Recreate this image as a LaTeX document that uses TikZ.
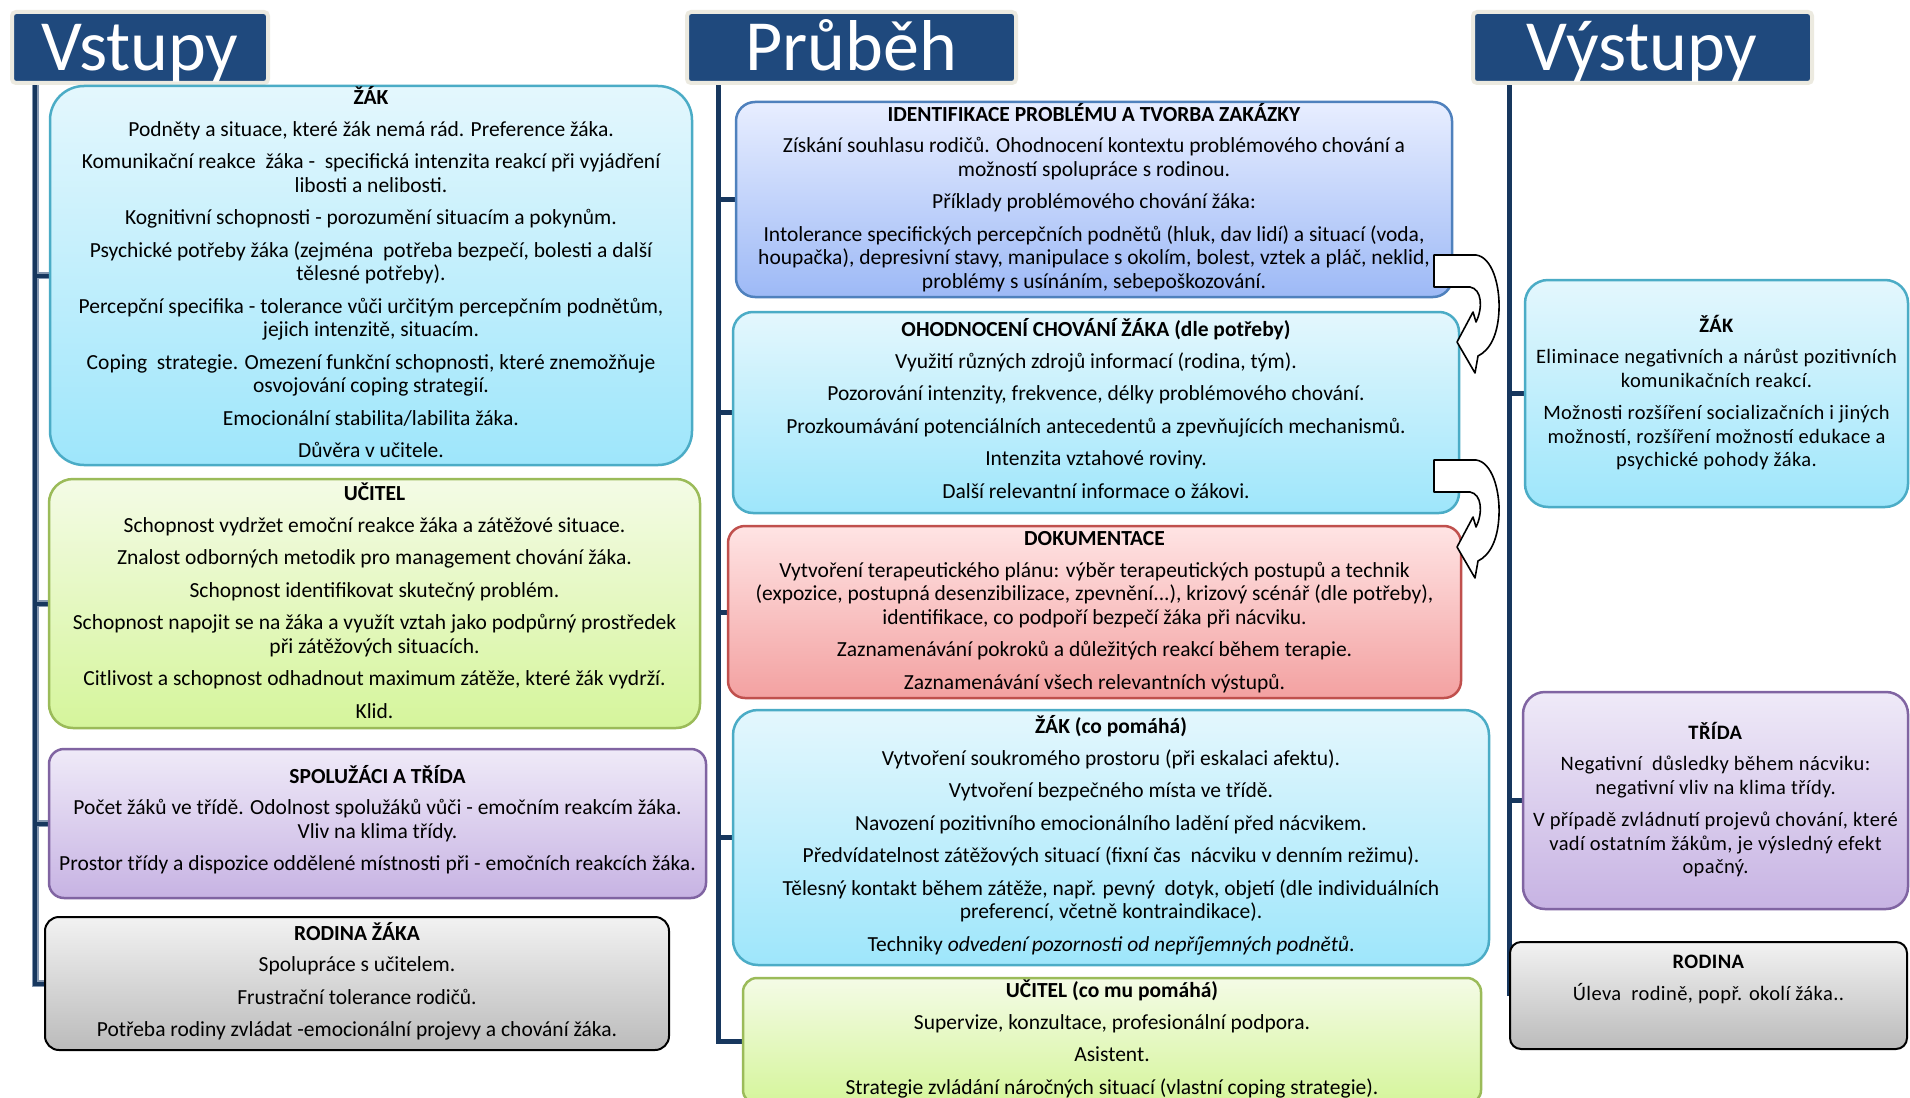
\documentclass[tikz,border=0pt]{standalone}
\usepackage{fontspec}
\setmainfont{Carlito}
\usetikzlibrary{fit,backgrounds}

% palette
\definecolor{trunk}{HTML}{17375E}
\definecolor{trunkEdge}{HTML}{8497B0}
\definecolor{headFill}{HTML}{1F497D}
\definecolor{headEdge}{HTML}{ECEAE0}
\definecolor{cyanTop}{HTML}{E4F7FD}
\definecolor{cyanBot}{HTML}{9EE6FB}
\definecolor{cyanEdge}{HTML}{4BACC6}
\definecolor{greenTop}{HTML}{F4FBE6}
\definecolor{greenBot}{HTML}{D5F59B}
\definecolor{greenEdge}{HTML}{9BBB59}
\definecolor{violetTop}{HTML}{EFEAF8}
\definecolor{violetBot}{HTML}{C7B3E3}
\definecolor{violetEdge}{HTML}{8064A2}
\definecolor{redTop}{HTML}{FFE4E4}
\definecolor{redBot}{HTML}{F3A1A1}
\definecolor{redEdge}{HTML}{C0504D}
\definecolor{blueTop}{HTML}{E8EEFF}
\definecolor{blueBot}{HTML}{9DB9F6}
\definecolor{blueEdge}{HTML}{4F81BD}
\definecolor{grayTop}{HTML}{F2F2F2}
\definecolor{grayBot}{HTML}{BBBBBB}

\newcommand\bodyfont{\fontsize{21.5}{23.5}\selectfont}
\newcommand\sidefont{\fontsize{20.5}{23.5}\selectfont\addfontfeature{LetterSpace=2.0}}
\newcommand\headfont{\fontsize{72}{80}\selectfont}

\tikzset{
  panel/.style={line width=2.5pt, rounded corners=#1, inner sep=0pt},
  cyanpanel/.style={panel=#1, draw=cyanEdge, top color=cyanTop, bottom color=cyanBot},
  greenpanel/.style={panel=#1, draw=greenEdge, top color=greenTop, bottom color=greenBot},
  violetpanel/.style={panel=#1, draw=violetEdge, top color=violetTop, bottom color=violetBot},
  redpanel/.style={panel=#1, draw=redEdge, top color=redTop, bottom color=redBot},
  bluepanel/.style={panel=#1, draw=blueEdge, top color=blueTop, bottom color=blueBot},
  graypanel/.style={panel=#1, line width=2pt, draw=black, top color=grayTop, bottom color=grayBot},
  paneltext/.style={align=center, font=\bodyfont, text=black, inner sep=0pt},
  sidetext/.style={paneltext, font=\sidefont},
  headbox/.style={draw=headEdge, line width=4pt, fill=headFill, rounded corners=4pt, inner sep=0pt},
  headtext/.style={text=white, font=\headfont, anchor=base, inner sep=0pt},
  trunkline/.style={draw=trunk, line width=5pt},
  trunkhalo/.style={draw=trunkEdge, line width=7pt},
  uturn/.pic={
    \draw[line width=1.6pt, fill=white, line join=round]
      (0,0) -- (42,0) .. controls (58,2) and (66,30) .. (65,55)
      .. controls (64,80) and (56,95) .. (44,101) -- (41,118) -- (23,87)
      -- (39,57) -- (42,67) .. controls (49,53) and (48,34) .. (36,32)
      -- (0,32) -- cycle;
  }
}

\begin{document}
\begin{tikzpicture}[x=1pt,y=-1pt]
\clip (0,0) rectangle (1910,1097);

% column headings
\node[headbox, fit={(12,12)(268,83)}] (hin) {};
\node[headtext] (hintext) at (140,71) {Vstupy};
\node[headbox, fit={(687,12)(1016,83)}] (hmid) {};
\node[headtext] (hmidtext) at (851,71) {Průběh};
\node[headbox, fit={(1473,12)(1812,83)}] (hout) {};
\node[headtext] (houttext) at (1642,71) {Výstupy};

% ---- panels ----
\node[cyanpanel=34pt, fit={(50,86)(692,465)}] (lz) {};
\node[greenpanel=24pt, fit={(49,479)(700,728)}] (lu) {};
\node[violetpanel=15pt, fit={(49,749)(706,898)}] (ls) {};
\node[graypanel=14pt, fit={(45,917)(669,1050)}] (lr) {};

\node[bluepanel=19pt, fit={(736,102)(1452,297)}] (mi) {};
\node[cyanpanel=20pt, fit={(733,312)(1459,513)}] (mo) {};
\node[redpanel=17pt, fit={(728,526)(1461,698)}] (md) {};
\node[cyanpanel=25pt, fit={(733,710)(1489,965)}] (mz) {};
\node[greenpanel=14pt, fit={(743,978)(1481,1104)}] (mu) {};

\node[cyanpanel=23pt, fit={(1525,280)(1908,507)}] (rz) {};
\node[violetpanel=22pt, fit={(1523,692)(1908,909)}] (rt) {};
\node[graypanel=11pt, fit={(1510,942)(1907,1049)}] (rr) {};

% ---- inputs: texts ----
\node[paneltext] (lztext) at ([yshift=3pt]lz.center) {%
\textbf{ŽÁK}\\[8pt]
Podněty a situace, které žák nemá rád. Preference žáka.\\[9pt]
Komunikační reakce\ \ žáka -\ \ specifická intenzita reakcí při vyjádření\\
libosti a nelibosti.\\[9pt]
Kognitivní schopnosti - porozumění situacím a pokynům.\\[9pt]
Psychické potřeby žáka (zejména\ \ potřeba bezpečí, bolesti a další\\
tělesné potřeby).\\[9pt]
Percepční specifika - tolerance vůči určitým percepčním podnětům,\\
jejich intenzitě, situacím.\\[9pt]
Coping\ \ strategie. Omezení funkční schopnosti, které znemožňuje\\
osvojování coping strategií.\\[9pt]
Emocionální stabilita/labilita žáka.\\[9pt]
Důvěra v učitele.};

\node[paneltext] (lutext) at ([yshift=3pt]lu.center) {%
\textbf{UČITEL}\\[8pt]
Schopnost vydržet emoční reakce žáka a zátěžové situace.\\[9pt]
Znalost odborných metodik pro management chování žáka.\\[9pt]
Schopnost identifikovat skutečný problém.\\[9pt]
Schopnost napojit se na žáka a využít vztah jako podpůrný prostředek\\
při zátěžových situacích.\\[9pt]
Citlivost a schopnost odhadnout maximum zátěže, které žák vydrží.\\[9pt]
Klid.};

\node[paneltext] (lstext) at ([yshift=4pt]ls.center) {%
\textbf{SPOLUŽÁCI A TŘÍDA}\\[8pt]
Počet žáků ve třídě. Odolnost spolužáků vůči - emočním reakcím žáka.\\
Vliv na klima třídy.\\[9pt]
Prostor třídy a dispozice oddělené místnosti při - emočních reakcích žáka.};

\node[paneltext] (lrtext) at ([yshift=2pt]lr.center) {%
\textbf{RODINA ŽÁKA}\\[8pt]
Spolupráce s učitelem.\\[9pt]
Frustrační tolerance rodičů.\\[9pt]
Potřeba rodiny zvládat -emocionální projevy a chování žáka.};

% ---- process: texts ----
\node[paneltext] (mitext) at ([yshift=2pt]mi.center) {%
\textbf{IDENTIFIKACE PROBLÉMU A TVORBA ZAKÁZKY}\\[8pt]
Získání souhlasu rodičů. Ohodnocení kontextu problémového chování a\\
možností spolupráce s rodinou.\\[9pt]
Příklady problémového chování žáka:\\[9pt]
Intolerance specifických percepčních podnětů (hluk, dav lidí) a situací (voda,\\
houpačka), depresivní stavy, manipulace s okolím, bolest, vztek a pláč, neklid,\\
problémy s usínáním, sebepoškozování.};

\node[paneltext] (motext) at ([yshift=4pt]mo.center) {%
\textbf{OHODNOCENÍ CHOVÁNÍ ŽÁKA (dle potřeby)}\\[8pt]
Využití různých zdrojů informací (rodina, tým).\\[9pt]
Pozorování intenzity, frekvence, délky problémového chování.\\[9pt]
Prozkoumávání potenciálních antecedentů a zpevňujících mechanismů.\\[9pt]
Intenzita vztahové roviny.\\[9pt]
Další relevantní informace o žákovi.};

\node[paneltext] (mdtext) at ([yshift=0pt]md.center) {%
\textbf{DOKUMENTACE}\\[8pt]
Vytvoření terapeutického plánu: výběr terapeutických postupů a technik\\
(expozice, postupná desenzibilizace, zpevnění...), krizový scénář (dle potřeby),\\
identifikace, co podpoří bezpečí žáka při nácviku.\\[9pt]
Zaznamenávání pokroků a důležitých reakcí během terapie.\\[9pt]
Zaznamenávání všech relevantních výstupů.};

\node[paneltext] (mztext) at ([yshift=2pt]mz.center) {%
\textbf{ŽÁK (co pomáhá)}\\[8pt]
Vytvoření soukromého prostoru (při eskalaci afektu).\\[9pt]
Vytvoření bezpečného místa ve třídě.\\[9pt]
Navození pozitivního emocionálního ladění před nácvikem.\\[9pt]
Předvídatelnost zátěžových situací (fixní čas\ \ nácviku v denním režimu).\\[9pt]
Tělesný kontakt během zátěže, např. pevný\ \ dotyk, objetí (dle individuálních\\
preferencí, včetně kontraindikace).\\[9pt]
Techniky \textit{odvedení pozornosti od nepříjemných podnětů}.};

\node[paneltext] (mutext) at ([yshift=2pt]mu.center) {%
\textbf{UČITEL (co mu pomáhá)}\\[8pt]
Supervize, konzultace, profesionální podpora.\\[9pt]
Asistent.\\[9pt]
Strategie zvládání náročných situací (vlastní coping strategie).};

% ---- outputs: texts ----
\node[sidetext] (rztext) at ([yshift=1pt]rz.center) {%
\textbf{ŽÁK}\\[8pt]
Eliminace negativních a nárůst pozitivních\\
komunikačních reakcí.\\[9pt]
Možnosti rozšíření socializačních i jiných\\
možností, rozšíření možností edukace a\\
psychické pohody žáka.};

\node[sidetext] (rttext) at ([yshift=1pt]rt.center) {%
\textbf{TŘÍDA}\\[8pt]
Negativní\ \ důsledky během nácviku:\\
negativní vliv na klima třídy.\\[9pt]
V případě zvládnutí projevů chování, které\\
vadí ostatním žákům, je výsledný efekt\\
opačný.};

\node[sidetext] (rrtext) at ([yshift=16pt]rr.center) {%
\textbf{RODINA}\\[8pt]
Úleva\ \ rodině, popř. okolí žáka..};

% ---- white page and trunks, behind the panels ----
\coordinate (ltop) at (35,84);
\coordinate (mtop) at (718,84);
\coordinate (rtop) at (1509,84);
\begin{scope}[on background layer]
  \fill[white] (0,0) rectangle (1910,1097);
  \foreach \b in {lz,lu,ls,lr} \draw[trunkhalo] (ltop) |- (\b.west);
  \foreach \b in {lz,lu,ls,lr} \draw[trunkline, line width=4pt] (ltop) |- (\b.west);
  \foreach \b in {mi,mo,md,mz,mu} \draw[trunkline] (mtop) |- (\b.west);
  \foreach \b in {rz,rt,rr} \draw[trunkline] (rtop) |- (\b.west);
\end{scope}

% curved step arrows between the process panels
\pic at (1434,255) {uturn};
\pic at (1434,460) {uturn};

\end{tikzpicture}
\end{document}
